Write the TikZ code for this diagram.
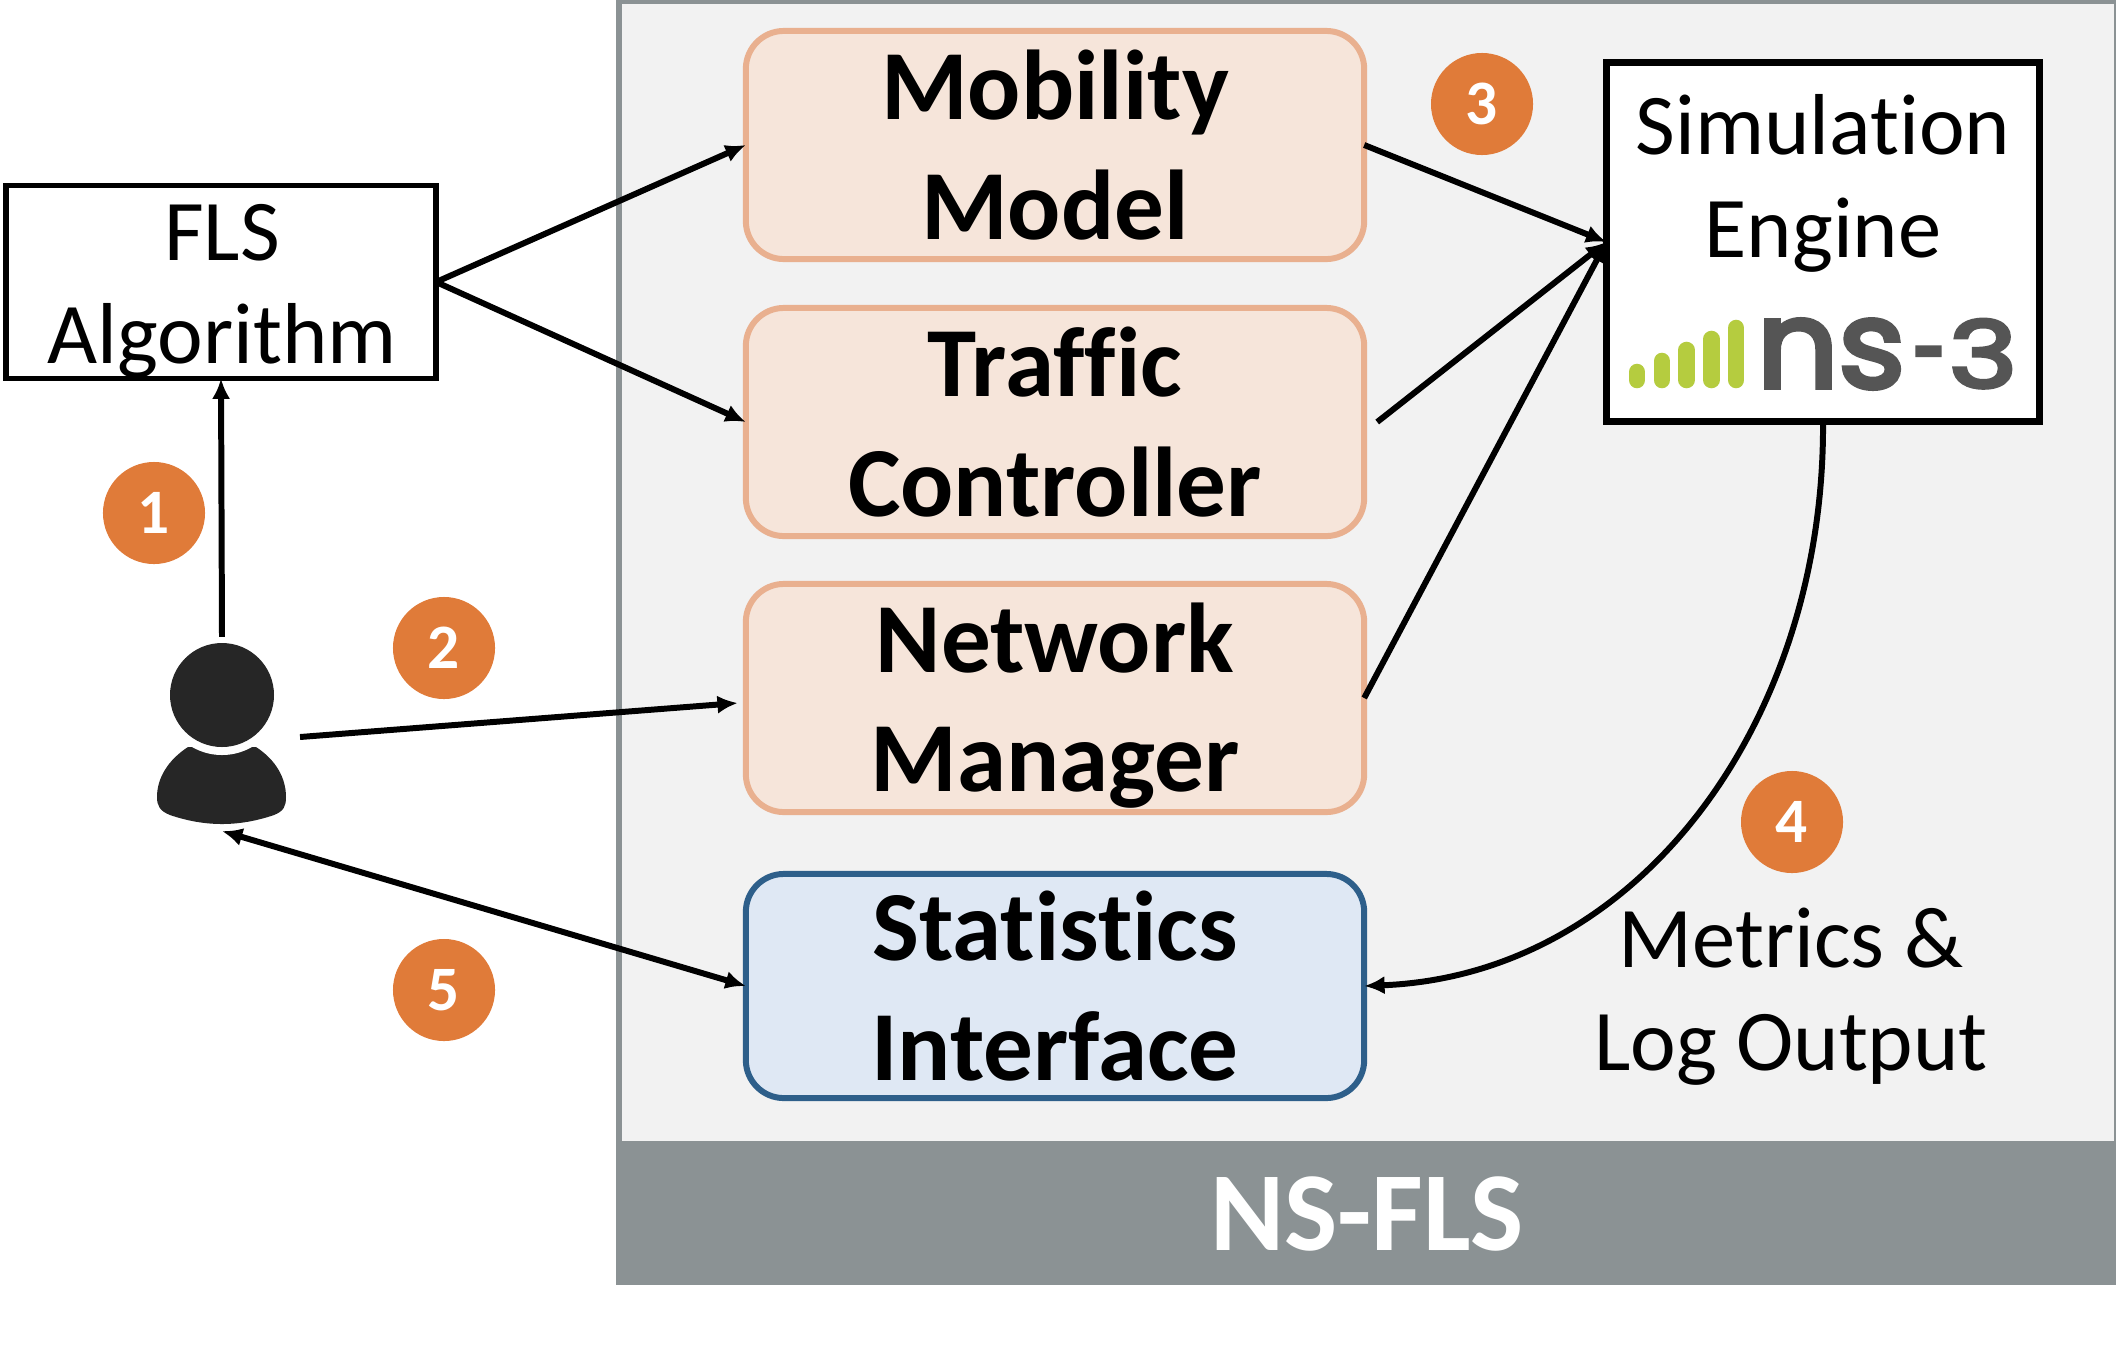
\documentclass[tikz,border=0pt]{standalone}
\usepackage{fontspec}
\setmainfont{Carlito}[Ligatures=NoCommon]
\newfontfamily\logofont{Poppins}[FakeBold=4]
\usetikzlibrary{arrows.meta}
\definecolor{panelgrey}{HTML}{8B9294}
\definecolor{panelfill}{HTML}{F2F2F2}
\definecolor{pinkline}{HTML}{E9B08F}
\definecolor{pinkfill}{HTML}{F6E5DA}
\definecolor{blueline}{HTML}{2E5F8A}
\definecolor{bluefill}{HTML}{DFE8F4}
\definecolor{badgefill}{HTML}{E07B39}
\definecolor{limebar}{HTML}{B5CC3F}
\definecolor{logogrey}{HTML}{555555}
\definecolor{usergrey}{HTML}{262626}
\tikzset{
	modulebox/.style={draw=pinkline,fill=pinkfill,line width=1.7pt,rounded corners=0.38cm,minimum width=6.18cm,minimum height=2.28cm,align=center,inner sep=0pt,outer sep=0pt,font=\fontsize{28.2}{33.9}\selectfont\bfseries},
	plainbox/.style={draw=black,fill=white,inner sep=0pt,outer sep=0pt},
	plaintext/.style={align=center,font=\fontsize{24.6}{29.3}\selectfont},
	badge/.style={circle,fill=badgefill,text=white,minimum size=1.02cm,inner sep=0pt,font=\fontsize{18}{18}\selectfont\bfseries},
	flow/.style={draw=black,line width=1.7pt,-{Latex[length=5.8pt,width=5.2pt]}},
}
\begin{document}
\begin{tikzpicture}[x=0.01cm,y=-0.01cm]
	\useasboundingbox (0,0) rectangle (2116,1348);
	\fill[panelgrey] (616,0) rectangle (2116,1285);
	\fill[panelfill] (622,4) rectangle (2114,1141);
	\node(title) at (1367,1214)[text=white,font=\fontsize{32}{32}\selectfont\bfseries]{NS-FLS};

	\node(mobility) at (1055,145)[modulebox]{Mobility\\Model};
	\node(traffic) at (1055,422)[modulebox]{Traffic\\Controller};
	\node(network) at (1055,698)[modulebox]{\rule{0pt}{24pt}Network\\Manager};
	\node(stats) at (1055,986)[modulebox,draw=blueline,fill=bluefill,minimum height=2.24cm]{Statistics\\Interface};

	\node(fls) at (221,282)[plainbox,line width=1.6pt,minimum width=4.3cm,minimum height=1.93cm]{};
	\node(flslabel) at (222,291)[plaintext]{FLS\\Algorithm};
	\node(sim) at (1823,242)[plainbox,line width=2pt,minimum width=4.33cm,minimum height=3.59cm]{};
	\node(simlabel) at (1823,183)[plaintext]{Simulation\\Engine};

	\foreach \i/\t in {0/364,1/353,2/342,3/331,4/320}
		\draw[limebar,line width=4.7pt,line cap=round] (1637+24.8*\i,\t+8) -- (1637+24.8*\i,380);
	\node(logo) at (1887,354)[logogrey,inner sep=0pt]{\logofont\resizebox{1.48cm}{0.68cm}{ns}\hspace{0.08cm}\resizebox{0.33cm}{0.4cm}{-}\hspace{0.03cm}\resizebox{0.68cm}{0.68cm}{3}};

	\fill[usergrey] (188,747) .. controls (168,760) and (157,778) .. (157,797) .. controls (157,806) and (160,811) .. (170,815) .. controls (205,827) and (239,827) .. (274,815) .. controls (284,811) and (286,806) .. (286,797) .. controls (286,778) and (276,760) .. (256,747) -- cycle;
	\fill[white] (222,695) circle (60);
	\fill[usergrey] (222,695) circle (52);
	\node(user) at (222,734)[minimum width=1.56cm,minimum height=1.94cm,inner sep=0pt,outer sep=0pt]{};

	\node(one) at (154,513)[badge]{1};
	\node(two) at (444,648)[badge]{2};
	\node(three) at (1482,104)[badge]{3};
	\node(four) at (1792,822)[badge]{4};
	\node(five) at (444,990)[badge]{5};

	\node(metrics) at (1791,997)[plaintext]{Metrics \&\\Log Output};

	\draw[flow] (user.north) to (fls.south);
	\draw[flow] (fls.east) to (mobility.west);
	\draw[flow] (fls.east) to (traffic.west);
	\draw[flow] ([yshift=-0.03cm]user.east) to ([xshift=-0.08cm,yshift=-0.05cm]network.west);
	\draw[flow,{Latex[length=5.8pt,width=5.2pt]}-{Latex[length=5.8pt,width=5.2pt]}] (user.south) to (stats.west);
	\draw[flow] (mobility.east) to (sim.west);
	\draw[flow] ([xshift=0.13cm]traffic.east) to (sim.west);
	\draw[flow] (network.east) to (sim.west);
	\draw[flow] (sim.south) .. controls (1825,720) and (1640,975) .. (stats.east);
\end{tikzpicture}
\end{document}
